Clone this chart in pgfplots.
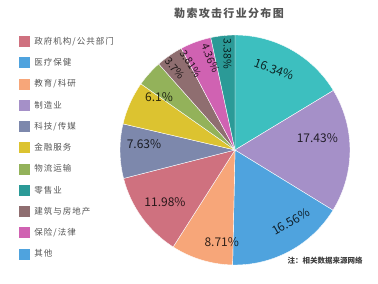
\documentclass[border=0pt]{standalone}
\usepackage{fontspec}
\setmainfont{Noto Sans CJK SC}
\newfontfamily\cjksp[LetterSpace=12]{Noto Sans CJK SC}
\usepackage{pgfplots}
\usepackage{pgfplotstable}
\pgfplotsset{compat=1.18}
\definecolor{cTurq}{HTML}{3DBFBF}
\definecolor{cLav}{HTML}{A590C8}
\definecolor{cBlue}{HTML}{4FA3DE}
\definecolor{cPeach}{HTML}{F7A679}
\definecolor{cRose}{HTML}{CF717F}
\definecolor{cSlate}{HTML}{7D88AC}
\definecolor{cYel}{HTML}{DCC330}
\definecolor{cGreen}{HTML}{93B25A}
\definecolor{cBrown}{HTML}{8F6E70}
\definecolor{cPink}{HTML}{D062B2}
\definecolor{cTeal}{HTML}{2B9A97}
\definecolor{txt}{HTML}{555555}
\pgfplotstableread{
value col lx ly rot fs
16.34 cTurq 274 69.3 -20 12
17.43 cLav 317.3 138.3 0 12
16.56 cBlue 290.7 221.7 30 12
8.71 cPeach 221.7 241.7 0 12
11.98 cRose 165 201.7 0 12
7.63 cSlate 144 144.3 0 12
6.1 cYel 159 97.3 0 12
3.7 cGreen 175 68.5 -50 10.5
3.81 cBrown 191 63.5 -56 10.5
4.36 cPink 210.5 58 -67 10.5
3.38 cTeal 227.5 54 -90 10.5
}\piedata
\begin{document}
\begin{tikzpicture}
\begin{axis}[
  x=1pt, y=1pt, xmin=0, xmax=378, ymin=0, ymax=284,
  scale only axis, hide axis, clip=false,
  legend image code/.code={\fill[#1, draw=none] (0pt,-5.5pt) rectangle (11pt,5.5pt); \path (15pt,0pt);},
  legend cell align=left,
  legend style={at={(axis cs:19,248)}, anchor=north west, draw=none, fill=none,
    inner sep=0pt, row sep=10.25pt, font=\cjksp\fontsize{8.5}{9}\selectfont, text=txt,
    nodes={inner sep=0pt, text height=7pt, text depth=1.5pt}},
]
\path (axis cs:0,0) rectangle (axis cs:378,284);
\addlegendimage{fill=cRose}\addlegendentry{政府机构/公共部门}
\addlegendimage{fill=cBlue}\addlegendentry{医疗保健}
\addlegendimage{fill=cPeach}\addlegendentry{教育/科研}
\addlegendimage{fill=cLav}\addlegendentry{制造业}
\addlegendimage{fill=cSlate}\addlegendentry{科技/传媒}
\addlegendimage{fill=cYel}\addlegendentry{金融服务}
\addlegendimage{fill=cGreen}\addlegendentry{物流运输}
\addlegendimage{fill=cTeal}\addlegendentry{零售业}
\addlegendimage{fill=cBrown}\addlegendentry{建筑与房地产}
\addlegendimage{fill=cPink}\addlegendentry{保险/法律}
\addlegendimage{fill=cBlue}\addlegendentry{其他}
\pgfmathsetmacro\cum{90}
\pgfplotsforeachungrouped \i in {0,...,10}{%
  \pgfplotstablegetelem{\i}{value}\of\piedata \let\v\pgfplotsretval
  \pgfplotstablegetelem{\i}{col}\of\piedata \let\c\pgfplotsretval
  \pgfmathsetmacro\endang{\cum-3.6*\v}
  \edef\temp{\noexpand\fill[\c, draw=white, line width=0.4pt] (axis cs:235,134) -- ++(\cum:115pt) arc[start angle=\cum, end angle=\endang, radius=115pt] -- cycle;}
  \temp
  \let\cum\endang
}
\pgfplotsforeachungrouped \i in {0,...,10}{%
  \pgfplotstablegetelem{\i}{value}\of\piedata \let\v\pgfplotsretval
  \pgfplotstablegetelem{\i}{lx}\of\piedata \let\lx\pgfplotsretval
  \pgfplotstablegetelem{\i}{ly}\of\piedata \let\ly\pgfplotsretval
  \pgfplotstablegetelem{\i}{rot}\of\piedata \let\rot\pgfplotsretval
  \pgfplotstablegetelem{\i}{fs}\of\piedata \let\fs\pgfplotsretval
  \pgfmathsetmacro\lyy{284-\ly}
  \edef\temp{\noexpand\node[rotate=\rot, text=black, text opacity=0.8, font=\noexpand\fontsize{\fs}{\fs}\noexpand\selectfont, inner sep=0pt] at (axis cs:\lx,\lyy) {\v\noexpand\%};}
  \temp
}
\node[font=\cjksp\bfseries\fontsize{11}{12}\selectfont, text=txt] at (axis cs:229,271) {勒索攻击行业分布图};
\node[font=\bfseries\fontsize{7.5}{8}\selectfont, text=black!75] at (axis cs:325,23) {注：相关数据来源网络};
\end{axis}
\end{tikzpicture}
\end{document}
